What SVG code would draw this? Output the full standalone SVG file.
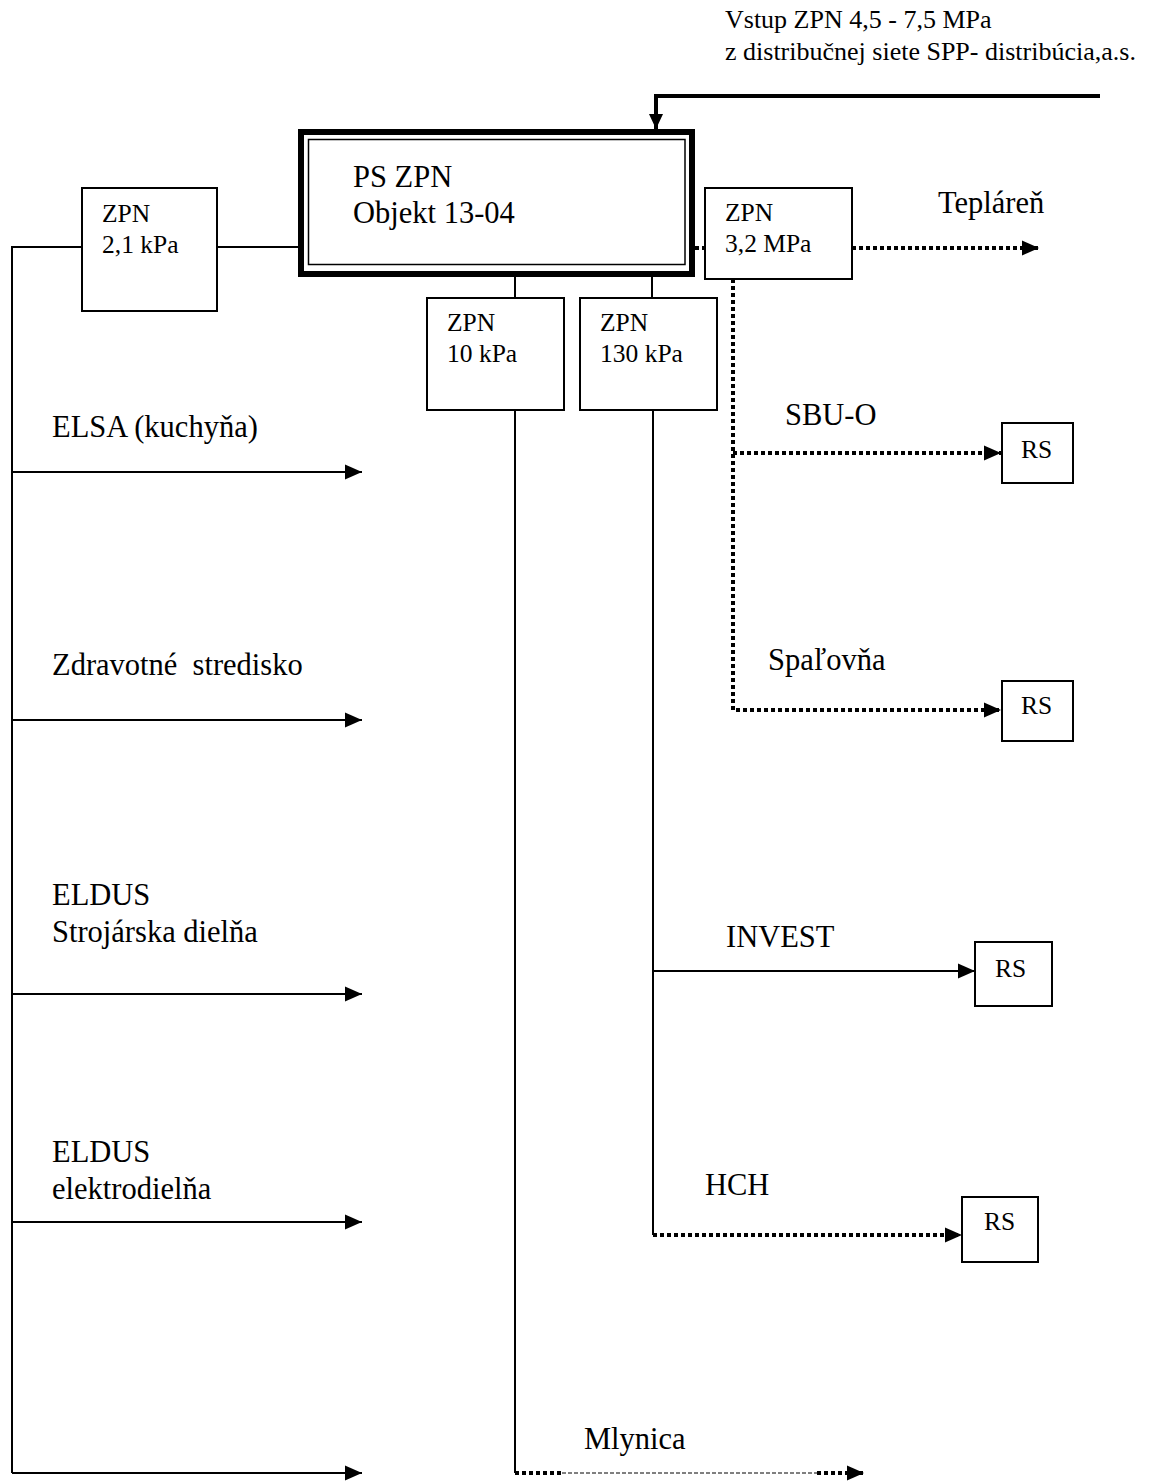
<svg xmlns="http://www.w3.org/2000/svg" width="1149" height="1482" viewBox="0 0 1149 1482">
<style>
text{font-family:"Liberation Serif","Times New Roman",serif;fill:#000}
.lbl{font-size:30.5px}
.box{font-size:25.5px}
.top{font-size:26px}
.rs{font-size:25.5px}
.b{fill:#fff;stroke:#000;stroke-width:2}
.s{fill:none;stroke:#000;stroke-width:2}
.d{fill:none;stroke:#000;stroke-width:4;stroke-dasharray:4 3}
.t{fill:none;stroke:#000;stroke-width:1;stroke-dasharray:4 2}
</style>
<defs>
<marker id="ah" markerUnits="userSpaceOnUse" markerWidth="17" markerHeight="16" refX="17" refY="8" orient="auto">
<path d="M0,0.5 L17,8 L0,15.5 z" fill="#000"/>
</marker>
<marker id="ahs" markerUnits="userSpaceOnUse" markerWidth="15" markerHeight="14" refX="15" refY="7" orient="auto">
<path d="M0,0 L15,7 L0,14 z" fill="#000"/>
</marker>
</defs>
<rect width="1149" height="1482" fill="#fff"/>
<g id="input-label">
<text class="top" x="725" y="28">Vstup ZPN 4,5 - 7,5 MPa</text>
<text class="top" x="725" y="60">z distribučnej siete SPP- distribúcia,a.s.</text>
</g>
<g id="connectors">
<path d="M1100,96 H656 V129" fill="none" stroke="#000" stroke-width="4" marker-end="url(#ahs)"/>
<path class="s" d="M12,1473 V247 H82"/>
<path class="s" d="M217,247 H298"/>
<path class="s" d="M12,472 H362" marker-end="url(#ah)"/>
<path class="s" d="M12,720 H362" marker-end="url(#ah)"/>
<path class="s" d="M12,994 H362" marker-end="url(#ah)"/>
<path class="s" d="M12,1222 H362" marker-end="url(#ah)"/>
<path class="s" d="M12,1473 H362" marker-end="url(#ah)"/>
<path class="s" d="M515,277 V298"/>
<path class="s" d="M652,277 V298"/>
<path class="s" d="M515,410 V1473"/>
<path class="s" d="M653,410 V1235"/>
<path class="s" d="M653,971 H975" marker-end="url(#ah)"/>
<path class="d" d="M695,248 H705"/>
<path class="d" d="M852,248 H1039" marker-end="url(#ah)"/>
<path class="d" d="M733,279 V710 H1001" marker-end="url(#ah)"/>
<path class="d" d="M733,453 H1001" marker-end="url(#ah)"/>
<path class="d" d="M653,1235 H962" marker-end="url(#ah)"/>
<path class="d" d="M515,1473 H562"/>
<path class="t" d="M562,1473 H817"/>
<path class="d" d="M817,1473 H864" marker-end="url(#ah)"/>
</g>
<g id="ps-zpn">
<rect x="301" y="132" width="391" height="142" fill="#fff" stroke="#000" stroke-width="6"/>
<rect x="308.5" y="139.5" width="376.5" height="125" fill="none" stroke="#000" stroke-width="1.5"/>
<text class="lbl" x="353" y="187">PS ZPN</text>
<text class="lbl" x="353" y="223">Objekt 13-04</text>
</g>
<g id="zpn-21">
<rect class="b" x="82" y="188" width="135" height="123"/>
<text class="box" x="102" y="222">ZPN</text>
<text class="box" x="102" y="253">2,1 kPa</text>
</g>
<g id="zpn-32">
<rect class="b" x="705" y="188" width="147" height="91"/>
<text class="box" x="725" y="221">ZPN</text>
<text class="box" x="725" y="252">3,2 MPa</text>
</g>
<g id="zpn-10">
<rect class="b" x="427" y="298" width="137" height="112"/>
<text class="box" x="447" y="331">ZPN</text>
<text class="box" x="447" y="362">10 kPa</text>
</g>
<g id="zpn-130">
<rect class="b" x="580" y="298" width="137" height="112"/>
<text class="box" x="600" y="331">ZPN</text>
<text class="box" x="600" y="362">130 kPa</text>
</g>
<g id="rs-sbu">
<rect class="b" x="1002" y="423" width="71" height="60"/>
<text class="rs" x="1021" y="458">RS</text>
</g>
<g id="rs-spal">
<rect class="b" x="1002" y="681" width="71" height="60"/>
<text class="rs" x="1021" y="714">RS</text>
</g>
<g id="rs-invest">
<rect class="b" x="975" y="942" width="77" height="64"/>
<text class="rs" x="995" y="977">RS</text>
</g>
<g id="rs-hch">
<rect class="b" x="962" y="1197" width="76" height="65"/>
<text class="rs" x="984" y="1230">RS</text>
</g>
<g id="labels">
<text class="lbl" x="938" y="213">Tepláreň</text>
<text class="lbl" x="785" y="425">SBU-O</text>
<text class="lbl" x="768" y="670">Spaľovňa</text>
<text class="lbl" x="726" y="947">INVEST</text>
<text class="lbl" x="705" y="1195">HCH</text>
<text class="lbl" x="584" y="1449">Mlynica</text>
<text class="lbl" x="52" y="437">ELSA (kuchyňa)</text>
<text class="lbl" x="52" y="675" xml:space="preserve">Zdravotné  stredisko</text>
<text class="lbl" x="52" y="905">ELDUS</text>
<text class="lbl" x="52" y="942">Strojárska dielňa</text>
<text class="lbl" x="52" y="1162">ELDUS</text>
<text class="lbl" x="52" y="1199">elektrodielňa</text>
</g>
</svg>
